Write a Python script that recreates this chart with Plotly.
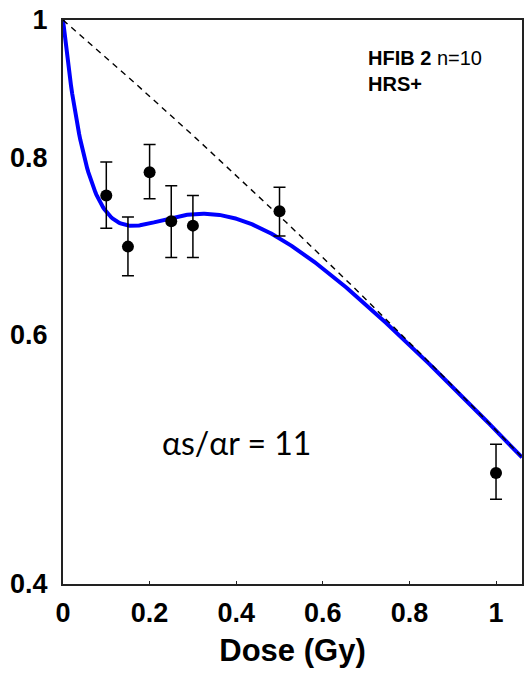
import numpy as np
import plotly.graph_objects as go

# Measured surviving fractions (mean with lower/upper error limits)
dose = [0.1, 0.15, 0.2, 0.25, 0.3, 0.5, 1.0]
surv = [0.752, 0.692, 0.781, 0.721, 0.716, 0.733, 0.479]
surv_hi = [0.794, 0.726, 0.817, 0.764, 0.752, 0.762, 0.502]
surv_lo = [0.713, 0.660, 0.748, 0.680, 0.680, 0.704, 0.459]

# Induced-repair model parameters
alpha_r = 0.607
beta = 0.0594
ratio_s_r = 11
d_c = 0.113

x_ticks = [0, 0.2, 0.4, 0.6, 0.8, 1]
x_ticktext = ["0", "0.2", "0.4", "0.6", "0.8", "1"]
y_ticks = [0.4, 0.6, 0.8, 1]
y_ticktext = ["0.4", "0.6", "0.8", "1"]

d = np.linspace(0, 1.06, 400)
lq = np.exp(-alpha_r * d - beta * d ** 2)
ir = np.exp(-alpha_r * (1 + (ratio_s_r - 1) * np.exp(-d / d_c)) * d - beta * d ** 2)

fig = go.Figure()
# Induced-repair fit (blue), then the plain LQ line dashed on top
fig.add_trace(go.Scatter(x=d, y=ir, mode="lines",
                         line=dict(color="#0000ff", width=4),
                         showlegend=False))
fig.add_trace(go.Scatter(x=d, y=lq, mode="lines",
                         line=dict(color="black", width=1.4, dash="6px,5px"),
                         showlegend=False, hoverinfo="skip"))
fig.add_trace(go.Scatter(
    x=dose, y=surv, mode="markers",
    marker=dict(color="black", size=12),
    error_y=dict(type="data", symmetric=False,
                 array=[h - m for h, m in zip(surv_hi, surv)],
                 arrayminus=[m - l for m, l in zip(surv, surv_lo)],
                 color="black", thickness=1.5, width=6),
    showlegend=False))

plot_w = 528 - 63 - 4
plot_h = 678 - 20 - 94

fig.add_annotation(x=(367 - 63) / plot_w, y=1 - (71 - 20) / plot_h,
                   xref="paper", yref="paper", showarrow=False,
                   text="<b>HFIB 2</b> n=10<br><b>HRS+</b>", align="left",
                   xanchor="left", yanchor="middle",
                   font=dict(family="Liberation Sans, Arial", size=20, color="black"))
# Annotation y on a log axis is given in log10 units
fig.add_annotation(x=0.4, y=np.log10(0.503), xref="x", yref="y", showarrow=False,
                   text="\u03b1s/\u03b1r = 11",
                   font=dict(family="Lato, Open Sans", size=32, color="black"))

bold = dict(family="Liberation Sans, Arial", color="black", weight="bold")
fig.update_layout(
    width=528, height=678,
    margin=dict(l=63, r=4, t=20, b=94),
    plot_bgcolor="white", paper_bgcolor="white",
    xaxis=dict(range=[0, 1.06], tickvals=x_ticks, ticktext=x_ticktext,
               showgrid=False, zeroline=False, showline=True, linecolor="#222",
               linewidth=2, mirror=True, ticks="inside", ticklen=3, tickcolor="#222",
               ticklabelstandoff=4,
               tickfont=dict(size=27, **bold),
               title=dict(text="<b>Dose (Gy)</b>", standoff=12,
                          font=dict(family="Liberation Sans, Arial", size=31, color="black"))),
    yaxis=dict(type="log", range=[np.log10(0.4), 0], tickvals=y_ticks, ticktext=y_ticktext,
               showgrid=False, zeroline=False, showline=True, linecolor="#222",
               linewidth=2, mirror=True, ticks="", ticklabelstandoff=8,
               tickfont=dict(size=27, **bold)),
)

fig.write_html("out.html")
